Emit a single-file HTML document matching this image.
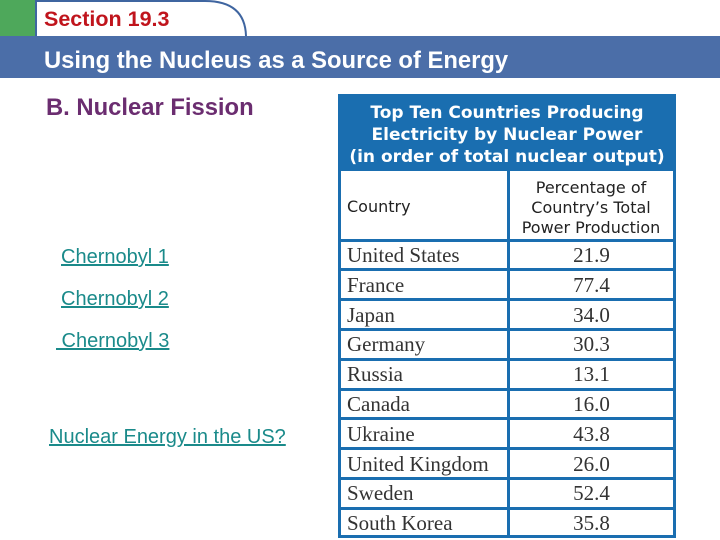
<!DOCTYPE html>
<html><head><meta charset="utf-8"><style>
body{margin:0;width:720px;height:540px;position:relative;background:#fff;overflow:hidden;font-family:"Liberation Sans",sans-serif}
.a{position:absolute}
.lnk{position:absolute;color:#1a8a8a;text-decoration:underline;font-size:20px}
.cell{position:absolute;box-sizing:border-box;font-family:"Liberation Serif",serif;font-size:21px;color:#333}
</style></head><body>
<div class="a" style="left:0;top:0;width:36px;height:36px;background:#4ea85b"></div>
<svg class="a" style="left:0;top:0" width="260" height="40"><path d="M36 36 V1 H205 Q245 1 246 36" fill="#fff" stroke="#3f65a0" stroke-width="2"/></svg>
<div class="a" style="left:44px;top:7px;font-size:21.5px;font-weight:bold;color:#c0141c">Section 19.3</div>
<div class="a" style="left:0;top:36px;width:720px;height:42px;background:#4b6ea8"></div>
<div class="a" style="left:44px;top:47px;font-size:23.8px;font-weight:bold;color:#fff">Using the Nucleus as a Source of Energy</div>
<div class="a" style="left:46px;top:94px;font-size:23.8px;font-weight:bold;color:#6b2d70">B. Nuclear Fission</div>
<a class="lnk" style="left:61px;top:246px">Chernobyl 1</a>
<a class="lnk" style="left:61px;top:288px">Chernobyl 2</a>
<a class="lnk" style="left:56px;top:330px">&nbsp;Chernobyl 3</a>
<a class="lnk" style="left:49px;top:426px">Nuclear Energy in the US?</a>
<div id="tbl" class="a" style="left:338px;top:94px;width:338px;height:444px;background:#fff;border:3px solid #1a6eb0;box-sizing:border-box">
<div class="a" style="left:0;top:0;width:332px;height:74px;background:#1a6eb0;color:#fff;font-family:'DejaVu Sans',sans-serif;font-weight:bold;font-size:17px;line-height:22px;text-align:center;padding-top:5px;box-sizing:border-box;white-space:nowrap">Top Ten Countries Producing<br>Electricity by Nuclear Power<br>(in order of total nuclear output)</div>
<div class="a" style="left:6px;top:100px;font-family:'DejaVu Sans',sans-serif;font-size:16px;color:#222">Country</div>
<div class="a" style="left:168px;top:81px;width:164px;text-align:center;font-family:'DejaVu Sans',sans-serif;font-size:16px;line-height:20px;color:#222;white-space:nowrap">Percentage of<br>Country’s Total<br>Power Production</div>
<div class="a" style="left:166px;top:74px;width:3px;height:364px;background:#1a6eb0"></div>
</div>
<script>
const countries=["United States","France","Japan","Germany","Russia","Canada","Ukraine","United Kingdom","Sweden","South Korea"];
const percentages=["21.9","77.4","34.0","30.3","13.1","16.0","43.8","26.0","52.4","35.8"];
const tbl=document.getElementById('tbl');
const top0=143,rowH=29.8;
countries.forEach((c,i)=>{
  const y=top0+i*rowH;
  const line=document.createElement('div');
  line.className='a';
  
  
  line.style.cssText=`left:0;top:${y-1.5}px;width:332px;height:3px;background:#1a6eb0`;
  tbl.appendChild(line);
  const n=document.createElement('div');
  n.className='cell';
  
  
  n.style.cssText=`left:6px;top:${y+3}px`;
  n.textContent=c;tbl.appendChild(n);
  const v=document.createElement('div');
  v.className='cell';
  
  
  v.style.cssText=`left:169px;width:163px;text-align:center;top:${y+3}px`;
  v.textContent=percentages[i];tbl.appendChild(v);
});
</script>
</body></html>
